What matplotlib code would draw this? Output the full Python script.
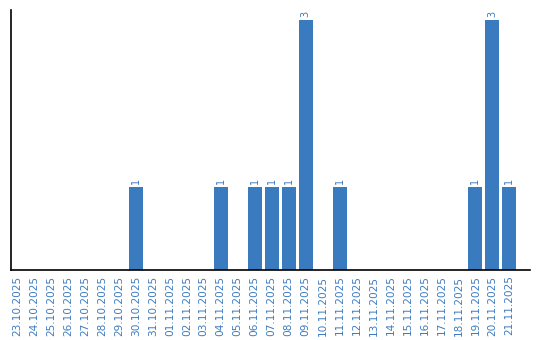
import matplotlib
matplotlib.use("Agg")
import matplotlib.pyplot as plt
from datetime import date, timedelta

start = date(2025, 10, 23)
dates = [(start + timedelta(days=i)).strftime("%d.%m.%Y") for i in range(30)]
counts = [0, 0, 0, 0, 0, 0, 0, 1, 0, 0,
          0, 0, 1, 0, 1, 1, 1, 3, 0, 1,
          0, 0, 0, 0, 0, 0, 0, 1, 3, 1]

blue = "#3a7bbf"
text_blue = "#3d7cc0"

fig = plt.figure(figsize=(5.4, 3.4), dpi=100)
ax = fig.add_axes([0.0204, 0.206, 0.9606, 0.7646])

x = list(range(len(dates)))
ax.bar(x, counts, width=0.82, color=blue)

for xi, v in zip(x, counts):
    if v:
        ax.text(xi, v + 0.03, str(v), rotation=90, ha="center", va="bottom",
                fontsize=7, color=text_blue)

ax.set_xlim(-0.35, 30.2)
ax.set_ylim(0, 3.12)
ax.set_xticks(x)
ax.set_xticklabels(dates, rotation=90, fontsize=7.6, color=text_blue)
ax.tick_params(axis="x", length=0, pad=4)
ax.set_yticks([])
ax.spines["top"].set_visible(False)
ax.spines["right"].set_visible(False)
for s in ("left", "bottom"):
    ax.spines[s].set_linewidth(1.2)

fig.savefig("out.png", dpi=100)
